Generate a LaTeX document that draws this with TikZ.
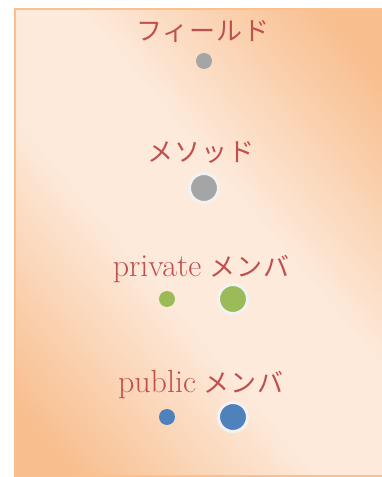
\documentclass[tikz,border=0pt]{standalone}
\usepackage{fontspec}
\usepackage{xcolor}
\usepackage{tikz}
\newfontfamily\jafont[LetterSpace=4]{Noto Sans CJK JP}
\definecolor{frameorange}{RGB}{250,192,144}
\definecolor{bgorange}{RGB}{248,190,142}
\definecolor{bglight}{RGB}{253,234,219}
\definecolor{lblred}{RGB}{192,80,77}
\definecolor{dotgray}{RGB}{165,165,165}
\definecolor{dotgreen}{RGB}{155,187,89}
\definecolor{dotblue}{RGB}{79,129,189}
\definecolor{halo}{RGB}{242,242,242}
\pgfdeclarehorizontalshading{panelshade}{100bp}{color(0bp)=(bgorange); color(20bp)=(bgorange);
  color(43bp)=(bglight); color(57bp)=(bglight); color(80bp)=(bgorange); color(100bp)=(bgorange)}

\tikzset{
  lbl/.style={text=lblred,font=\fontsize{26}{28}\selectfont,inner sep=0pt},
  smalldot/.style={circle,inner sep=0pt,minimum size=16pt},
  bigdot/.style={circle,inner sep=0pt,minimum size=29pt,draw=halo,line width=3pt},
}
\newcommand{\latintxt}[1]{{\fontsize{32}{34}\selectfont #1}}

\begin{document}
\begin{tikzpicture}[x=1pt,y=1pt]
\useasboundingbox (0,0) rectangle (382,477);
% background panel
\shade[shading=panelshade,shading angle=40] (15,1) rectangle (384,468);
\draw[frameorange,line width=2.2pt] (15,1) rectangle (384,468);
% Fields
\node[lbl] (fieldlbl) at (203,445) {\jafont フィールド};
\node[smalldot,fill=dotgray] (fielddot) at (204,416) {};
% Methods
\node[lbl] (methodlbl) at (201,325) {\jafont メソッド};
\node[bigdot,fill=dotgray] (methoddot) at (204,289) {};
% Private members
\node[lbl] (privlbl) at (201,208) {\latintxt{private} \jafont メンバ};
\node[smalldot,fill=dotgreen] (privsmall) at (167,178) {};
\node[bigdot,fill=dotgreen] (privbig) at (233,178) {};
% Public members
\node[lbl] (publbl) at (201,92) {\latintxt{public} \jafont メンバ};
\node[smalldot,fill=dotblue] (pubsmall) at (167,60) {};
\node[bigdot,fill=dotblue] (pubbig) at (233,60) {};
\end{tikzpicture}
\end{document}
